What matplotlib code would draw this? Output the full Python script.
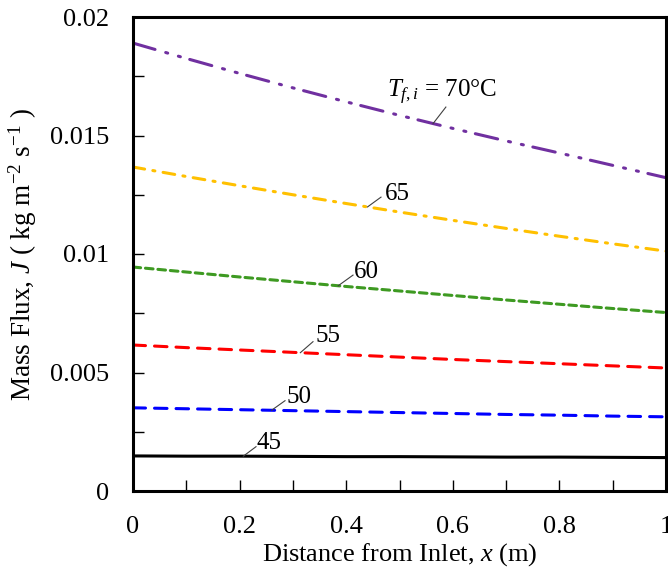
import matplotlib
matplotlib.use("Agg")
import matplotlib.pyplot as plt
from matplotlib.ticker import MultipleLocator
import numpy as np

plt.rcParams['font.family'] = ['Liberation Serif', 'DejaVu Serif']
plt.rcParams['mathtext.fontset'] = 'custom'
plt.rcParams['mathtext.rm'] = 'Liberation Serif'
plt.rcParams['mathtext.it'] = 'Liberation Serif:italic'
plt.rcParams['lines.scale_dashes'] = False

x = [0.0, 0.1, 0.2, 0.3, 0.4, 0.5, 0.6, 0.7, 0.8, 0.9, 1.0]
J_70 = [0.0189, 0.01825, 0.01762, 0.01701, 0.01642, 0.01585, 0.0153, 0.01477, 0.01426, 0.01374, 0.01322]
J_65 = [0.01367, 0.01327, 0.01288, 0.0125, 0.01213, 0.01177, 0.01142, 0.01108, 0.01075, 0.01043, 0.01012]
J_60 = [0.00945, 0.00924, 0.00903, 0.00883, 0.00863, 0.00844, 0.00825, 0.00806, 0.00788, 0.0077, 0.00753]
J_55 = [0.00616, 0.00605, 0.00595, 0.00585, 0.00575, 0.00565, 0.00555, 0.00546, 0.00537, 0.00528, 0.00519]
J_50 = [0.00351, 0.00347, 0.00343, 0.00339, 0.00335, 0.00331, 0.00327, 0.00323, 0.0032, 0.00316, 0.00313]
J_45 = [0.00148, 0.00147, 0.00147, 0.00146, 0.00145, 0.00145, 0.00144, 0.00143, 0.00143, 0.00142, 0.00141]

labels = [r"$T_{f,i}$ = 70°C", "65", "60", "55", "50", "45"]
series = [J_70, J_65, J_60, J_55, J_50, J_45]
colors = ['#7030A0', '#FFC000', '#3E9A22', '#FF0000', '#0000FF', '#000000']
styles = [(0, (16.5, 8, 1.5, 8, 1.5, 7)),
          (0, (8.5, 6, 1.5, 6)),
          (0, (5.5, 3.5)),
          (0, (9, 6.5)),
          (0, (9, 6.5)),
          '-']
# leader line: start x on curve, end point; text left/baseline position (data coords)
lead_x = [0.563, 0.44, 0.385, 0.314, 0.26, 0.207]
lead_end = [(0.587, 0.0162), (0.4653, 0.0124), (0.4128, 0.00911), (0.3377, 0.0063), (0.2852, 0.00381), (0.2308, 0.00187)]
text_pos = [(0.4765, 0.01662), (0.4728, 0.01228), (0.4146, 0.00899), (0.3415, 0.00629), (0.2884, 0.0037), (0.232, 0.00176)]

fig = plt.figure(figsize=(6.68, 5.74), dpi=100)
ax = fig.add_axes([133/668, 1-491/574, 533/668, 474/574])

for ys, c, ls, lab, lx, le, tp in zip(series, colors, styles, labels, lead_x, lead_end, text_pos):
    ax.plot(x, ys, color=c, linestyle=ls, linewidth=2.2, solid_capstyle='butt', dash_capstyle='round')
    yy = float(np.interp(lx, x, ys))
    ax.plot([lx, le[0]], [yy, le[1]], color='#404040', lw=0.8)
    ax.text(tp[0], tp[1], lab, fontsize=18, ha='left', va='baseline')

ax.set_xlim(0, 1)
ax.set_ylim(0, 0.02)
ax.xaxis.set_minor_locator(MultipleLocator(0.1))
ax.yaxis.set_minor_locator(MultipleLocator(0.0025))
ax.set_xticks([0, 0.2, 0.4, 0.6, 0.8, 1.0])
ax.set_xticklabels(['0', '0.2', '0.4', '0.6', '0.8', '1'])
ax.set_yticks([0, 0.005, 0.01, 0.015, 0.02])
ax.set_yticklabels(['0', '0.005', '0.01', '0.015', '0.02'])
ax.tick_params(which='both', direction='in', length=8, width=1.0, labelsize=19)
ax.tick_params(axis='y', which='both', pad=17, right=False)
ax.tick_params(axis='x', which='both', pad=18, top=False)
for sp in ax.spines.values():
    sp.set_linewidth(2.2)

ax.set_xlabel("Distance from Inlet, $x$ (m)", fontsize=19, labelpad=2)
ax.set_ylabel("Mass Flux, $J$ ( kg m$^{-2}$ s$^{-1}$ )", fontsize=19.5, labelpad=8)

fig.savefig("out.png", dpi=100)
